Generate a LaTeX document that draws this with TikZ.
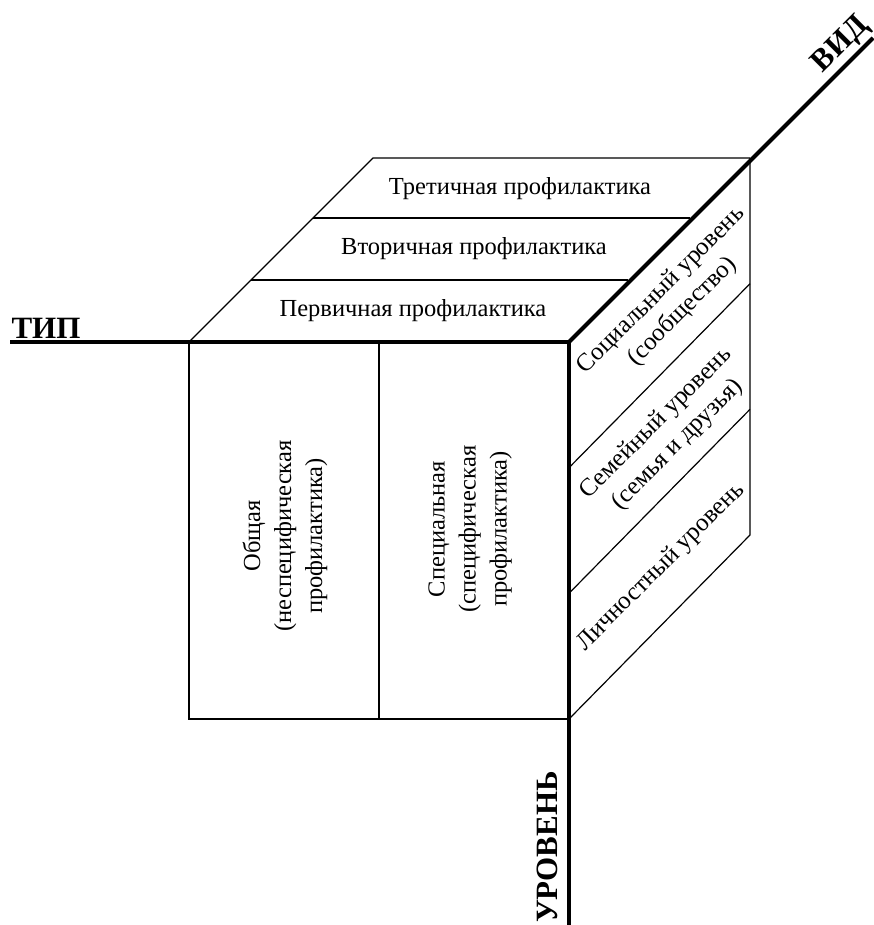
\documentclass[tikz,border=0pt]{standalone}
\usepackage{fontspec}
\setmainfont{Liberation Serif}
\newfontfamily\timesfont{Liberation Serif}
\begin{document}
\begin{tikzpicture}[x=1pt,y=-1pt,
  thin line/.style={line width=1.2pt,black},
  axis line/.style={line width=4pt,black},
  lbl/.style={inner sep=0pt,font=\timesfont\fontsize{24.5}{31}\selectfont,align=center},
  rlbl/.style={inner sep=0pt,font=\timesfont\fontsize{25}{30}\selectfont,align=center,rotate=45},
  axlbl/.style={inner sep=0pt,font=\timesfont\fontsize{31}{36}\selectfont\bfseries}]
\useasboundingbox (0,0) rectangle (873,925);
% key coordinates
\coordinate (O) at (569,342);
\coordinate (FL) at (189,342);
\coordinate (FBL) at (189,719);
\coordinate (FBR) at (569,719);
\coordinate (FM) at (379,342);
\coordinate (FMB) at (379,719);
\coordinate (TBL) at (373,158);
\coordinate (TBR) at (750,158);
\coordinate (RBB) at (750,535);
\coordinate (TipEnd) at (10,342);
\coordinate (LevEnd) at (569,925);
\coordinate (VidEnd) at (873,38);
% front face
\draw[thin line] (FL) -- (FBL) -- (FBR);
\draw[thin line] (FM) -- (FMB);
% top face
\draw[thin line] (FL) -- (TBL) -- (TBR);
\draw[thin line] (313,218) -- (690,218);
\draw[thin line] (251,280) -- (628,280);
% right face
\draw[thin line] (TBR) -- (RBB) -- (FBR);
\draw[thin line] (569,467.7) -- (750,283.7);
\draw[thin line] (569,593.3) -- (750,409.3);
% axes
\draw[axis line] (TipEnd) -- (O);
\draw[axis line] (O) -- (LevEnd);
\draw[axis line] (O) -- (VidEnd);
% axis labels
\node[axlbl,anchor=base] (tip) at (46,338) {ТИП};
\node[axlbl,rotate=45] (vid) at (841,45) {ВИД};
\node[axlbl,rotate=90] (lev) at (547,847) {УРОВЕНЬ};
% top face labels
\node[lbl] (t3) at (520,189) {Третичная профилактика};
\node[lbl] (t2) at (474,249) {Вторичная профилактика};
\node[lbl] (t1) at (413,311) {Первичная профилактика};
% front face labels
\node[lbl,rotate=90] (f1) at (285,536) {Общая\\(неспецифическая\\профилактика)};
\node[lbl,rotate=90] (f2) at (470,529) {Специальная\\(специфическая\\профилактика)};
% right face labels
\node[rlbl] (r1) at (672,301) {Социальный уровень\\(сообщество)};
\node[rlbl] (r2) at (667,434) {Семейный уровень\\(семья и друзья)};
\node[rlbl] (r3) at (661,567) {Личностный уровень};
\end{tikzpicture}
\end{document}
